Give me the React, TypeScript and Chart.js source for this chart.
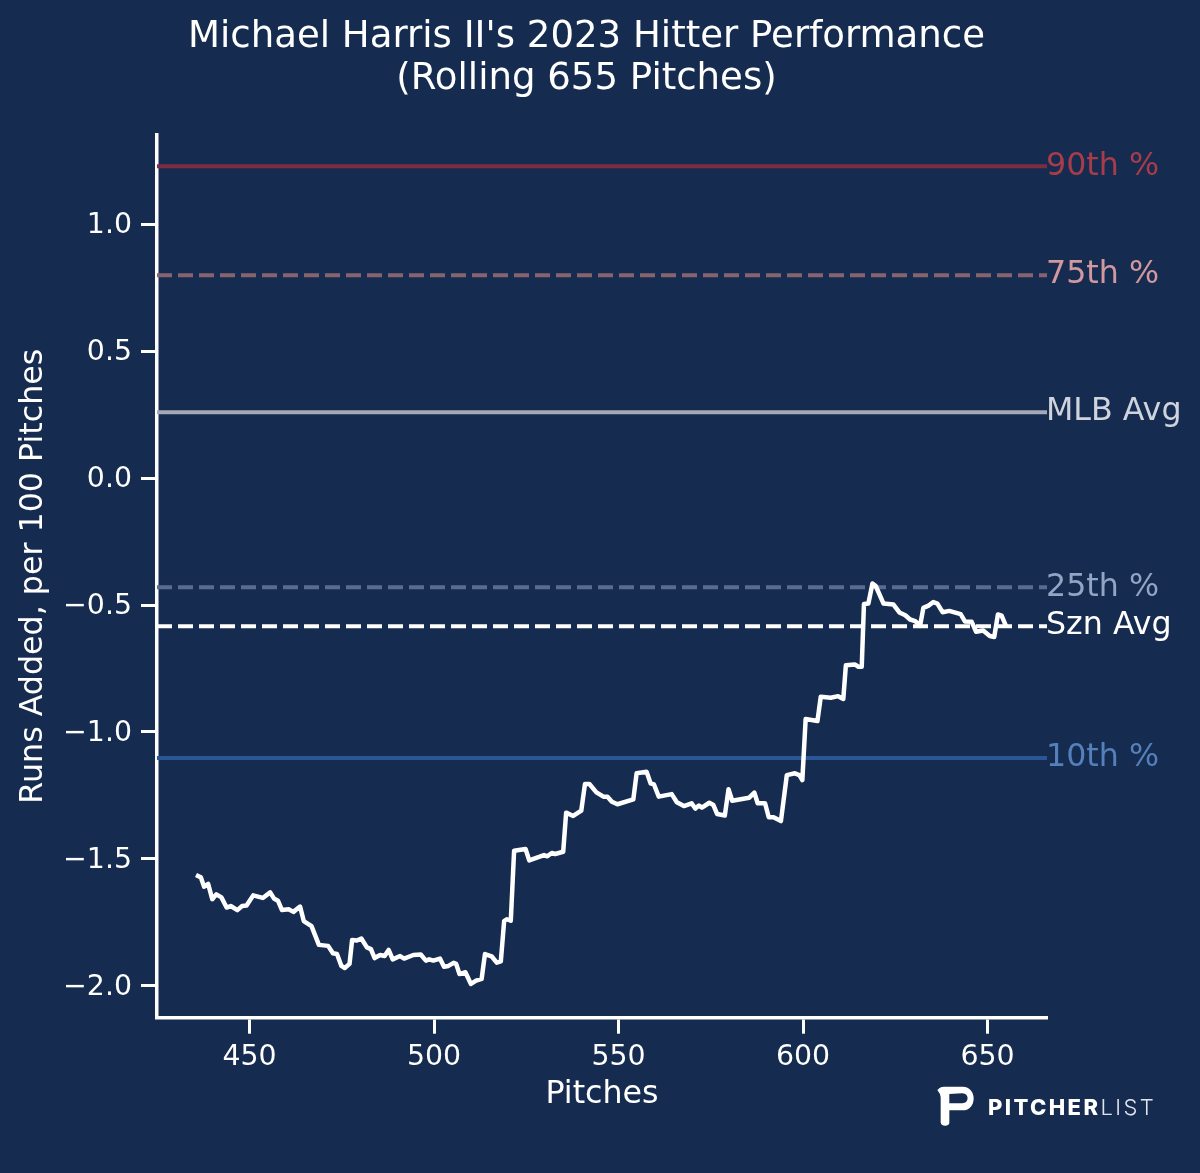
import { useEffect, useRef } from 'react'
import { Chart, registerables } from 'chart.js'

Chart.register(...registerables)

const pitches = [
  435.5, 436.8, 437.7, 438.8, 439.9, 441.0, 442.4, 443.8, 444.9, 446.7, 448.0, 449.2, 451.0, 453.6, 455.6, 456.6, 457.7, 458.8, 460.6, 461.9,
  463.7, 464.7, 466.8, 468.8, 471.3, 472.6, 473.7, 474.9, 475.8, 477.1, 477.8, 479.1, 480.3, 481.8, 482.9, 483.9, 485.4, 486.6, 487.7, 488.8,
  490.8, 491.9, 494.4, 496.4, 497.8, 498.7, 499.8, 501.6, 502.7, 503.9, 505.3, 506.0, 506.9, 508.5, 510.0, 511.4, 512.9, 513.8, 515.6, 517.0,
  518.1, 519.0, 519.7, 520.8, 521.7, 524.8, 525.8, 529.8, 530.7, 531.9, 532.8, 535.0, 535.8, 537.7, 539.9, 540.9, 542.1, 544.0, 545.9, 547.0,
  548.2, 549.7, 554.0, 554.9, 557.6, 558.7, 559.6, 560.9, 564.4, 565.8, 567.7, 569.8, 570.8, 571.8, 572.6, 574.6, 575.7, 576.7, 578.8, 579.8,
  580.8, 585.4, 586.8, 587.7, 589.7, 590.7, 592.0, 594.0, 595.6, 597.8, 599.0, 599.8, 600.7, 603.9, 604.8, 607.5, 609.5, 610.9, 611.6, 614.0,
  615.0, 615.9, 616.5, 617.7, 618.8, 619.7, 621.8, 624.5, 626.1, 627.7, 629.0, 630.4, 631.7, 632.6, 634.0, 635.3, 636.4, 637.8, 639.6, 642.7,
  643.9, 645.7, 646.9, 648.8, 650.6, 651.8, 652.8, 653.8, 655.0,
]

const runsAdded = [
  -1.564, -1.573, -1.61, -1.599, -1.659, -1.64, -1.652, -1.692, -1.686, -1.702, -1.686, -1.684, -1.644, -1.654, -1.632, -1.656, -1.665, -1.702, -1.699, -1.709,
  -1.688, -1.745, -1.765, -1.839, -1.843, -1.872, -1.875, -1.922, -1.93, -1.914, -1.82, -1.822, -1.814, -1.849, -1.856, -1.891, -1.879, -1.883, -1.859, -1.896,
  -1.883, -1.893, -1.879, -1.877, -1.901, -1.896, -1.901, -1.893, -1.925, -1.922, -1.91, -1.914, -1.954, -1.947, -1.993, -1.98, -1.973, -1.875, -1.884, -1.909,
  -1.904, -1.745, -1.738, -1.744, -1.468, -1.461, -1.506, -1.485, -1.49, -1.477, -1.481, -1.472, -1.318, -1.331, -1.31, -1.205, -1.205, -1.238, -1.255, -1.255,
  -1.275, -1.285, -1.266, -1.163, -1.157, -1.203, -1.207, -1.255, -1.245, -1.277, -1.292, -1.281, -1.302, -1.29, -1.298, -1.279, -1.288, -1.323, -1.329, -1.226,
  -1.271, -1.259, -1.239, -1.281, -1.281, -1.336, -1.336, -1.351, -1.17, -1.163, -1.17, -1.19, -0.949, -0.957, -0.861, -0.865, -0.859, -0.87, -0.737, -0.734,
  -0.743, -0.743, -0.496, -0.494, -0.415, -0.425, -0.494, -0.498, -0.529, -0.54, -0.557, -0.563, -0.582, -0.511, -0.502, -0.488, -0.494, -0.528, -0.523, -0.536,
  -0.565, -0.566, -0.605, -0.6, -0.622, -0.626, -0.537, -0.542, -0.583,
]

const refLabels = ['90th %', '75th %', 'MLB Avg', '25th %', 'Szn Avg', '10th %']
const refValues = [1.229, 0.8, 0.26, -0.43, -0.583, -1.103]

const xTicks = [450, 500, 550, 600, 650]
const yTicks = [-2, -1.5, -1, -0.5, 0, 0.5, 1]

const titleLines = ["Michael Harris II's 2023 Hitter Performance", '(Rolling 655 Pitches)']

const BG = '#152b4f'
const FONT = '"DejaVu Sans", sans-serif'
const X_MIN = 424.93
const X_MAX = 666.1

const refStyles: Record<string, { line: string; text: string; dash: number[] }> = {
  '90th %': { line: '#7f2c42', text: '#a83c4a', dash: [] },
  '75th %': { line: '#85646f', text: '#d2989f', dash: [15, 6] },
  'MLB Avg': { line: '#a4a9b5', text: '#ced3dd', dash: [] },
  '25th %': { line: '#5a6c8e', text: '#93a5c4', dash: [15, 6] },
  'Szn Avg': { line: '#ffffff', text: '#ffffff', dash: [15, 6] },
  '10th %': { line: '#2a5596', text: '#5580bb', dash: [] },
}

// title, end-of-line labels and the logo
const overlayPlugin = {
  id: 'overlay',
  afterDraw(chart: any) {
    const { ctx, chartArea, scales } = chart
    ctx.save()
    ctx.fillStyle = '#ffffff'
    ctx.font = `37.1px ${FONT}`
    ctx.textAlign = 'center'
    ctx.textBaseline = 'middle'
    ctx.fillText(titleLines[0], 586.5, 37)
    ctx.fillText(titleLines[1], 586.5, 79)

    ctx.font = `31.7px ${FONT}`
    ctx.textAlign = 'left'
    refLabels.forEach((label, i) => {
      ctx.fillStyle = refStyles[label].text
      ctx.fillText(label, chartArea.right - 1, scales.y.getPixelForValue(refValues[i]))
    })

    // PitcherList mark
    ctx.translate(930, 1078)
    ctx.scale(1 / 3, 1 / 3)
    ctx.fillStyle = '#ffffff'
    ctx.beginPath()
    ctx.moveTo(22, 36)
    ctx.quadraticCurveTo(30, 26, 42, 26)
    ctx.lineTo(98, 26)
    ctx.bezierCurveTo(142, 26, 142, 97, 98, 97)
    ctx.lineTo(58, 97)
    ctx.lineTo(58, 135)
    ctx.quadraticCurveTo(56, 143, 46, 143)
    ctx.quadraticCurveTo(32, 143, 32, 132)
    ctx.lineTo(32, 58)
    ctx.quadraticCurveTo(32, 48, 22, 36)
    ctx.closePath()
    ctx.fill()
    ctx.fillStyle = BG
    ctx.beginPath()
    ctx.moveTo(58, 48)
    ctx.lineTo(97, 46)
    ctx.bezierCurveTo(118, 46, 118, 76, 97, 76)
    ctx.lineTo(58, 76)
    ctx.closePath()
    ctx.fill()
    ctx.setTransform(1, 0, 0, 1, 0, 0)

    ctx.fillStyle = '#ffffff'
    ctx.textBaseline = 'alphabetic'
    ctx.font = '800 22px Inter, sans-serif'
    ctx.letterSpacing = '2.4px'
    ctx.fillText('PITCHER', 988, 1115)
    const w = ctx.measureText('PITCHER').width
    ctx.font = '300 22px Inter, sans-serif'
    ctx.fillStyle = '#dfe4ec'
    ctx.fillText('LIST', 988 + w, 1115)
    ctx.restore()
  },
}

export default function App() {
  const canvasRef = useRef<HTMLCanvasElement | null>(null)

  useEffect(() => {
    if (!canvasRef.current) return
    const chart = new Chart(canvasRef.current, {
      type: 'line',
      data: {
        datasets: [
          {
            label: 'Rolling',
            data: pitches.map((x, i) => ({ x, y: runsAdded[i] })),
            borderColor: '#ffffff',
            borderWidth: 4.5,
            borderJoinStyle: 'round',
            pointRadius: 0,
            tension: 0,
          },
          ...refLabels.map((label, i) => ({
            label,
            data: [
              { x: X_MIN, y: refValues[i] },
              { x: X_MAX, y: refValues[i] },
            ],
            borderColor: refStyles[label].line,
            borderDash: refStyles[label].dash,
            borderWidth: 4,
            pointRadius: 0,
          })),
        ],
      },
      options: {
        animation: false,
        responsive: false,
        devicePixelRatio: 1,
        layout: { padding: { top: 134.7, right: 153, left: 0, bottom: 0 } },
        plugins: {
          legend: { display: false },
          tooltip: { enabled: false },
          title: { display: false },
        },
        scales: {
          x: {
            type: 'linear',
            min: X_MIN,
            max: X_MAX,
            afterFit: (scale: any) => {
              scale.height = 155.3
            },
            afterBuildTicks: (scale: any) => {
              scale.ticks = xTicks.map((value) => ({ value }))
            },
            border: { color: '#ffffff', width: 3.5 },
            grid: { drawOnChartArea: false, color: '#ffffff', tickLength: 16, tickWidth: 3 },
            ticks: {
              color: '#ffffff',
              font: { family: FONT, size: 28.4 },
              padding: 7,
              maxRotation: 0,
              callback: (v: any) => String(v),
            },
            title: {
              display: true,
              text: 'Pitches',
              color: '#ffffff',
              font: { family: FONT, size: 31.7 },
              padding: { top: 4, bottom: 59 },
            },
          },
          y: {
            type: 'linear',
            min: -2.126,
            max: 1.3535,
            afterFit: (scale: any) => {
              scale.width = 157
            },
            afterBuildTicks: (scale: any) => {
              scale.ticks = yTicks.map((value) => ({ value }))
            },
            border: { color: '#ffffff', width: 3.5 },
            grid: { drawOnChartArea: false, color: '#ffffff', tickLength: 16, tickWidth: 3 },
            ticks: {
              color: '#ffffff',
              font: { family: FONT, size: 28.4 },
              padding: 9,
              labelOffset: 1.5,
              callback: (v: any) => Number(v).toFixed(1).replace('-', '\u2212'),
            },
            title: {
              display: true,
              text: 'Runs Added, per 100 Pitches',
              color: '#ffffff',
              font: { family: FONT, size: 31.7 },
              padding: { top: 15, bottom: 0 },
            },
          },
        },
      },
      plugins: [overlayPlugin],
    } as any)

    return () => {
      chart.destroy()
    }
  }, [])

  return (
    <div style={{ position: 'fixed', left: 0, top: 0, width: 1200, height: 1173, background: BG }}>
      <canvas ref={canvasRef} width={1200} height={1173} style={{ display: 'block', width: 1200, height: 1173 }} />
    </div>
  )
}
